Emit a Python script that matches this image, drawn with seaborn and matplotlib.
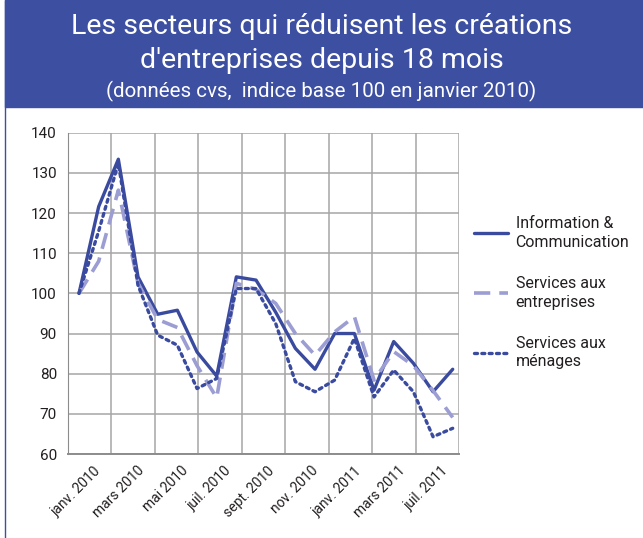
import numpy as np
import pandas as pd
import matplotlib
matplotlib.use("Agg")
import matplotlib.pyplot as plt
import seaborn as sns

# Data (index base 100 in janv. 2010, monthly from janv. 2010 to août 2011)
months = list(range(20))
info_comm = [100, 121.6, 133.4, 104.1, 94.8, 95.8, 85.4, 79.4, 104.1, 103.3,
             95.3, 86.3, 81.1, 90.0, 90.0, 75.9, 88.0, 82.6, 75.5, 81.1]
serv_entreprises = [100, 108.0, 125.7, 102.5, 93.5, 91.5, 82.0, 74.0, 102.5, 101.0,
                    97.5, 90.0, 84.6, 90.4, 94.2, 78.4, 85.5, 82.0, 75.8, 69.1]
serv_menages = [100, 115.5, 132.4, 102.0, 89.6, 87.1, 76.3, 78.8, 101.2, 101.2,
                92.5, 78.0, 75.5, 78.4, 88.8, 74.2, 80.9, 75.5, 64.3, 66.4]
tick_labels = ['janv. 2010', 'mars 2010', 'mai 2010', 'juil. 2010', 'sept. 2010',
               'nov. 2010', 'janv. 2011', 'mars 2011', 'juil. 2011']
series_names = ['Information &\nCommunication', 'Services aux\nentreprises',
                'Services aux\nménages']

df = pd.DataFrame({'mois': months, series_names[0]: info_comm,
                   series_names[1]: serv_entreprises, series_names[2]: serv_menages})

sns.set_style("white")
plt.rcParams['font.family'] = ['Roboto', 'DejaVu Sans']

BLUE = '#3a4a9f'
LAV = '#9b9dd3'
GRID = '#a6a6a6'
TXT = '#231f20'

fig = plt.figure(figsize=(6.43, 5.38), dpi=100)

# banner
fig.patches.append(plt.Rectangle((5 / 643, 1 - 107 / 538), 1, 107 / 538,
                                 transform=fig.transFigure, color='#3d4fa1', zorder=0))
fig.lines.append(plt.Line2D([5 / 643, 5 / 643], [0, 1], transform=fig.transFigure,
                            color='#3d4fa1', lw=1))
fig.text(0.5, 1 - 26 / 538, "Les secteurs qui réduisent les créations", color='white',
         ha='center', va='center', fontsize=20.5)
fig.text(0.5, 1 - 61 / 538, "d'entreprises depuis 18 mois", color='white',
         ha='center', va='center', fontsize=20.5)
fig.text(0.5, 1 - 91 / 538, "(données cvs,  indice base 100 en janvier 2010)", color='white',
         ha='center', va='center', fontsize=14.8)

ax = fig.add_axes([68 / 643, 1 - 454 / 538, 391 / 643, (454 - 132.7) / 538])

styles = [dict(color=BLUE, lw=2.4, linestyle='-'),
          dict(color=LAV, lw=2.6, linestyle=(0, (4.5, 2.5))),
          dict(color=BLUE, lw=2.4, linestyle=(0, (0.9, 1.3)), dash_capstyle='round')]
for name, st in zip(series_names, styles):
    sns.lineplot(data=df, x='mois', y=name, ax=ax, label=name, **st)

xlim = (-0.56, 19.32)
ax.set_xlim(*xlim)
ax.set_ylim(60, 140)
grid_x = np.linspace(xlim[0], xlim[1], 10)
centers = (grid_x[:-1] + grid_x[1:]) / 2
ax.set_xticks(grid_x)
ax.set_xticklabels([])
ax.set_xticks(centers + 0.2, minor=True)
ax.set_xticklabels(tick_labels, minor=True, rotation=45, ha='right',
                   rotation_mode='anchor', fontsize=10, color=TXT)
ax.tick_params(axis='x', which='minor', length=0, pad=7)
ax.tick_params(axis='x', which='major', length=3, color=GRID, direction='out')
ax.set_yticks(range(60, 141, 10))
ax.tick_params(axis='y', length=3, color=GRID, labelsize=11, labelcolor=TXT, pad=5)
ax.grid(True, color=GRID, lw=1.1)
for s in ['top', 'right']:
    ax.spines[s].set_visible(False)
ax.spines['left'].set_color('#8c8c8c')
ax.spines['bottom'].set_color('#8c8c8c')
ax.spines['bottom'].set_linewidth(1.4)
ax.set_xlabel('')
ax.set_ylabel('')

leg = ax.legend(loc='upper left', bbox_to_anchor=(466 / 643, 1 - 208 / 538),
                bbox_transform=fig.transFigure, frameon=False, fontsize=11.5,
                handlelength=2.1, handletextpad=0.5, labelspacing=1.65, borderpad=0)
for t in leg.get_texts():
    t.set_color(TXT)
    t.set_linespacing(1.3)

fig.savefig('out.png', dpi=100)
